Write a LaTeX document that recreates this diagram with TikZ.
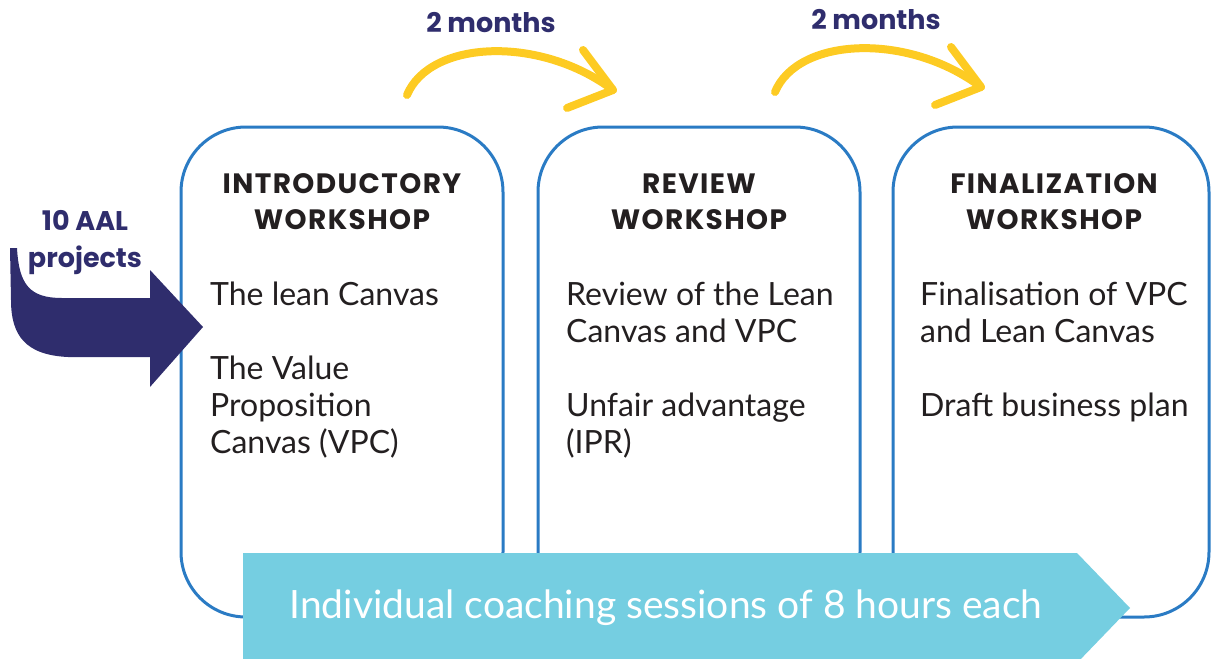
\documentclass[tikz,border=0pt]{standalone}
\usepackage{fontspec}
\setmainfont{Lato}
\newfontfamily\headfont[LetterSpace=5]{Poppins}
\newfontfamily\markfont{Poppins}
\definecolor{boxblue}{HTML}{2A7BC4}
\definecolor{navy}{HTML}{2F2D6D}
\definecolor{sun}{HTML}{FDCB23}
\definecolor{lagoon}{HTML}{75CEE1}
\definecolor{inkgray}{HTML}{231F20}

\begin{document}
\begin{tikzpicture}
	[x=1pt,y=-1pt,
	wsbox/.style={draw=boxblue,line width=3pt,fill=white,rounded corners=65pt,minimum height=490pt,inner sep=0pt},
	wstitle/.style={font=\headfont\bfseries\fontsize{28}{36}\selectfont,text=inkgray,align=center,inner sep=0pt},
	wsbody/.style={font=\fontsize{32}{37}\selectfont,text=inkgray,align=left,anchor=north west,inner sep=0pt},
	navytext/.style={font=\markfont\bfseries\fontsize{27}{37}\selectfont,text=navy,align=center,inner sep=0pt},
	yarrow/.style={draw=sun,line width=8pt,line cap=round,line join=round}]
	\useasboundingbox (0,0) rectangle (1211,659);
	% workshop boxes
	\node[wsbox,minimum width=322pt] (intro) at (342,372) {};
	\node[wsbox,minimum width=322pt] (review) at (699,372) {};
	\node[wsbox,minimum width=316pt] (final) at (1051,372) {};
	\node[wstitle] (introtitle) at (342,202) {INTRODUCTORY\\WORKSHOP};
	\node[wstitle] (reviewtitle) at (699,202) {REVIEW\\WORKSHOP};
	\node[wstitle] (finaltitle) at (1054,202) {FINALIZATION\\WORKSHOP};
	\node[wsbody] (introbody) at (210,282) {The lean Canvas\\[37pt]The Value\\Proposition\\Canvas (VPC)};
	\node[wsbody] (reviewbody) at (566,282) {Review of the Lean\\Canvas and VPC\\[37pt]Unfair advantage\\(IPR)};
	\node[wsbody] (finalbody) at (920,282) {Finalisation of VPC\\and Lean Canvas\\[37pt]Draft business plan};
	% incoming projects
	\fill[navy] (10,248) -- (17,248) .. controls (19,285) and (30,298) .. (62,298) -- (150,298) -- (150,270)
		-- (203,327) -- (150,387) -- (150,357) -- (68,357) .. controls (25,355) and (11,335) .. (11,300) -- cycle;
	\node[navytext] (projects) at (85,243) {10 AAL\\projects};
	% two months between workshops
	\coordinate (ya) at (407,95);
	\coordinate (yatip) at (613,90);
	\draw[yarrow] (ya) .. controls (430,40) and (540,35) .. (yatip);
	\draw[yarrow] (583,50) -- (yatip) -- (567,108);
	\node[navytext] (gapone) at (491,23) {2 months};
	\coordinate (yb) at (775,92);
	\coordinate (ybtip) at (981,87);
	\draw[yarrow] (yb) .. controls (798,37) and (908,32) .. (ybtip);
	\draw[yarrow] (951,47) -- (ybtip) -- (935,105);
	\node[navytext] (gaptwo) at (876,20) {2 months};
	% coaching banner
	\fill[lagoon] (243,553) -- (1077,553) -- (1130,608) -- (1077,663) -- (243,663) -- cycle;
	\node[font=\fontsize{39}{42}\selectfont,text=white,inner sep=0pt] (coaching) at (666,608) {Individual coaching sessions of 8 hours each};
\end{tikzpicture}
\end{document}
